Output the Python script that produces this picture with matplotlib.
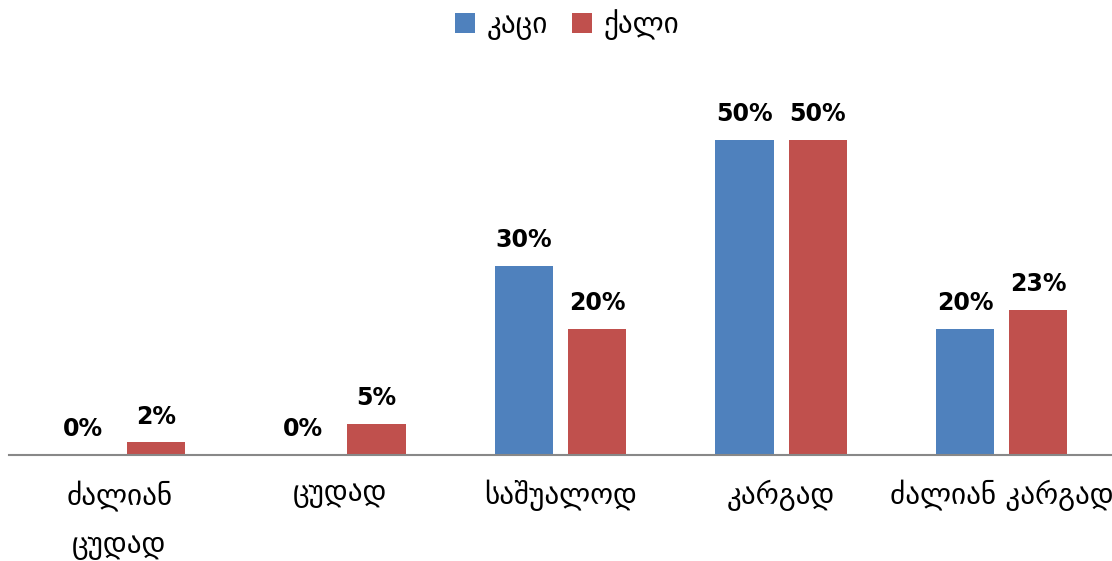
import numpy as np
import matplotlib
matplotlib.use('Agg')
from matplotlib import pyplot as plt

# survey answers by gender
categories = ['ძალიან\nცუდად', 'ცუდად', 'საშუალოდ', 'კარგად', 'ძალიან კარგად']
series_names = ['კაცი', 'ქალი']
men = [0, 0, 30, 50, 20]
women = [2, 5, 20, 50, 23]

blue = '#4F81BD'
red = '#C0504D'

plt.rcParams['font.family'] = ['DejaVu Sans']

fig = plt.figure(figsize=(11.12, 5.61), dpi=100)
ax = fig.add_axes([9 / 1112, 106 / 561, 1103 / 1112, 378 / 561])

x = np.arange(len(categories))
w = 0.264
off = 0.166
b1 = ax.bar(x - off, men, w, color=blue, label=series_names[0])
b2 = ax.bar(x + off, women, w, color=red, label=series_names[1])

for bars, vals in ((b1, men), (b2, women)):
    for rect, v in zip(bars, vals):
        ax.annotate('{}%'.format(v), (rect.get_x() + rect.get_width() / 2, v),
                    xytext=(0, 10), textcoords='offset points',
                    ha='center', va='bottom', fontsize=17, fontweight='bold')

ax.set_xlim(-0.5, 4.5)
ax.set_ylim(0, 60)
ax.set_yticks([])
ax.set_xticks(x)
ax.set_xticklabels(categories, fontsize=21, linespacing=1.9)
ax.tick_params(axis='x', length=0, pad=18)
for s in ['top', 'right', 'left']:
    ax.spines[s].set_visible(False)
ax.spines['bottom'].set_color('#888888')
ax.spines['bottom'].set_linewidth(1.5)

fig.legend(loc='upper center', bbox_to_anchor=(0.51, 1.03), ncol=2, frameon=False,
           fontsize=21, handlelength=0.7, handleheight=0.7, handletextpad=0.4,
           columnspacing=0.8)

fig.savefig('out.png', dpi=100)
